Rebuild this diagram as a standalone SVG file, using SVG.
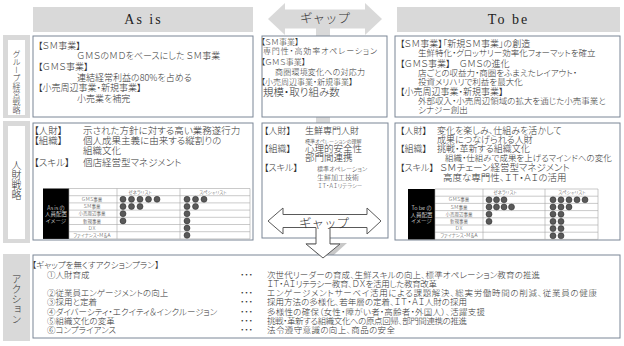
<svg xmlns="http://www.w3.org/2000/svg" width="624" height="346" viewBox="0 0 624 346">
<defs>
<style>
text{font-family:"Noto Sans CJK JP","Noto Sans",sans-serif;fill:#333;font-weight:300;font-feature-settings:"palt" 1}
.box{fill:#fff;stroke:#7b8696;stroke-width:1}
.gray{fill:#d9d9d9}
.white{fill:#fff}
.hd{font-family:"Liberation Serif",serif;font-size:14px;letter-spacing:2px;text-anchor:middle;fill:#222;font-weight:400}
.gap{font-size:12.5px;text-anchor:middle;fill:#333;font-feature-settings:normal}
.v{writing-mode:vertical-rl;text-anchor:middle;font-feature-settings:normal}
.tl{stroke:#a6a6a6;stroke-width:0.6;fill:none}
.tt{font-size:4.5px;text-anchor:middle;fill:#333}
.bt{font-size:5.5px;text-anchor:middle;fill:#fff}
.arrow{fill:#fff;stroke:#595959;stroke-width:1}
.shadow{fill:#c8c8c8}
</style>
<circle id="dot" r="3" fill="#595959" stroke="#262626" stroke-width="0.5"/>
</defs>
<rect width="624" height="346" fill="#fff"/>

<!-- background gap arrow (gray T arrow) -->
<g id="gap-top">
<polygon class="gray" points="268,19 285,3 285,9.5 365,9.5 365,3 382,19 365,35 365,28.5 285,28.5 285,35"/>
<rect class="gray" x="316" y="28" width="14" height="218"/>
<polygon class="shadow" points="305,243 347,243 326,262"/>
<text class="gap" x="325" y="23">ギャップ</text>
</g>

<!-- headers -->
<g id="head-asis"><rect class="gray" x="33" y="7" width="220" height="25"/><text class="hd" x="143.5" y="24">As is</text></g>
<g id="head-tobe"><rect class="gray" x="397" y="7" width="223" height="25"/><text class="hd" x="508.5" y="24">To be</text></g>

<!-- side labels -->
<g id="label-group">
<rect class="gray" x="3" y="35" width="27" height="83"/>
<rect class="white" x="8" y="40" width="17" height="75"/>
<text class="v" x="16.5" y="81.5" font-size="8">グループ経営戦略</text>
</g>
<g id="label-hr">
<rect class="gray" x="3" y="121" width="27" height="122"/>
<rect class="white" x="8" y="126" width="17" height="113"/>
<text class="v" x="16.5" y="180" font-size="10">人財戦略</text>
</g>
<g id="label-action">
<rect class="gray" x="3" y="254" width="27" height="87"/>
<text class="v" x="16.5" y="299" font-size="10">アクション</text>
</g>

<!-- row 1 -->
<g id="asis-group">
<rect class="box" x="33" y="36" width="220" height="81"/>
<text x="38" y="48.5" font-size="9">【ＳＭ事業】</text>
<text x="77" y="59" font-size="9">ＧＭＳのＭＤをベースにした ＳＭ事業</text>
<text x="38" y="69.5" font-size="9">【ＧＭＳ事業】</text>
<text x="77" y="80.5" font-size="9">連結経常利益の80%を占める</text>
<text x="38" y="91" font-size="9">【小売周辺事業・新規事業】</text>
<text x="77" y="101.5" font-size="9">小売業を補完</text>
</g>
<g id="gap-group">
<rect class="box" x="262" y="36" width="125" height="81"/>
<text x="261" y="45" font-size="8">【ＳＭ事業】</text>
<text x="263" y="54" font-size="8" textLength="114">専門性・高効率オペレーション</text>
<text x="261" y="64.5" font-size="8">【ＧＭＳ事業】</text>
<text x="275" y="74.5" font-size="8" textLength="90">商圏環境変化への対応力</text>
<text x="261" y="84.5" font-size="8">【小売周辺事業・新規事業】</text>
<text x="263" y="96" font-size="10.5">規模・取り組み数</text>
</g>
<g id="tobe-group">
<rect class="box" x="395" y="36" width="225" height="81"/>
<text x="400" y="46.5" font-size="9">【ＳＭ事業】「新規ＳＭ事業」の創造</text>
<text x="418" y="56" font-size="8.5">生鮮特化・グロッサリー効率化フォーマットを確立</text>
<text x="400" y="66.5" font-size="9">【ＧＭＳ事業】　ＧＭＳの進化</text>
<text x="418" y="76" font-size="8.5">店ごとの収益力・商圏をふまえたレイアウト・</text>
<text x="418" y="85" font-size="8.5">投資メリハリで利益を最大化</text>
<text x="400" y="95" font-size="9">【小売周辺事業・新規事業】</text>
<text x="418" y="104" font-size="8.5">外部収入・小売周辺領域の拡大を通じた小売事業と</text>
<text x="418" y="113" font-size="8.5">シナジー創出</text>
</g>

<!-- row 2 -->
<g id="asis-hr">
<rect class="box" x="33" y="123" width="220" height="117"/>
<text x="34" y="133.5" font-size="9.5">【人財】</text>
<text x="83" y="133.5" font-size="9.5">示された方針に対する高い業務遂行力</text>
<text x="34" y="143.5" font-size="9.5">【組織】</text>
<text x="83" y="143.5" font-size="9.5">個人成果主義に由来する縦割りの</text>
<text x="83" y="153.5" font-size="9.5">組織文化</text>
<text x="34" y="165.5" font-size="9.5">【スキル】</text>
<text x="83" y="165.5" font-size="9.5">個店経営型マネジメント</text>
<g id="asis-table">
<rect x="43" y="188.5" width="26" height="50.4" fill="#000"/>
<text class="bt" x="56" y="209.5">As is の</text>
<text class="bt" x="56" y="216">人員配置</text>
<text class="bt" x="56" y="222.5">イメージ</text>
<path class="tl" d="M69,188.5H250V238.9H69M69,195.7H250M69,202.9H250M69,210.1H250M69,217.3H250M69,224.5H250M69,231.7H250M117,188.5V238.9M180,188.5V238.9M69,188.5V238.9"/>
<text class="tt" x="140" y="193.7">ゼネラリスト</text>
<text class="tt" x="213" y="193.7">スペシャリスト</text>
<text class="tt" x="92" y="200.9">ＧＭＳ事業</text>
<text class="tt" x="92" y="208.1">ＳＭ事業</text>
<text class="tt" x="92" y="215.3">小売周辺事業</text>
<text class="tt" x="92" y="222.5">新規事業</text>
<text class="tt" x="92" y="229.7">ＤＸ</text>
<text class="tt" x="92" y="236.9">ファイナンス・Ｍ＆Ａ</text>
<use href="#dot" x="123" y="199.3"/><use href="#dot" x="131.5" y="199.3"/><use href="#dot" x="140" y="199.3"/><use href="#dot" x="148.5" y="199.3"/><use href="#dot" x="157" y="199.3"/>
<use href="#dot" x="187" y="199.3"/><use href="#dot" x="195.5" y="199.3"/><use href="#dot" x="204" y="199.3"/>
<use href="#dot" x="123" y="206.5"/><use href="#dot" x="131.5" y="206.5"/><use href="#dot" x="140" y="206.5"/>
<use href="#dot" x="187" y="206.5"/><use href="#dot" x="195.5" y="206.5"/>
<use href="#dot" x="123" y="213.7"/><use href="#dot" x="187" y="213.7"/>
<use href="#dot" x="123" y="220.9"/><use href="#dot" x="187" y="220.9"/>
<use href="#dot" x="187" y="228.1"/>
<use href="#dot" x="187" y="235.3"/>
</g>
</g>

<g id="gap-hr">
<rect class="box" x="262" y="123" width="126" height="115"/>
<text x="264" y="134" font-size="9">【人財】</text>
<text x="305" y="134" font-size="9">生鮮専門人財</text>
<text x="305" y="143" font-size="5">標準オペレーションの理解</text>
<text x="264" y="151.5" font-size="9">【組織】</text>
<text x="305" y="151.5" font-size="9.5">心理的安全性</text>
<text x="305" y="161" font-size="9.5">部門間連携</text>
<text x="264" y="171" font-size="9">【スキル】</text>
<text x="317" y="171" font-size="6">標準オペレーション</text>
<text x="317" y="180" font-size="7">生鮮加工技術</text>
<text x="318" y="187.5" font-size="5.5">ＩＴ・ＡＩリテラシー</text>
</g>

<g id="tobe-hr">
<rect class="box" x="395" y="123" width="225" height="117"/>
<text x="400" y="133.5" font-size="9">【人財】</text>
<text x="437" y="133.5" font-size="9">変化を楽しみ、仕組みを活かして</text>
<text x="437" y="143" font-size="9">成果につなげられる人財</text>
<text x="400" y="151.5" font-size="9">【組織】</text>
<text x="437" y="151.5" font-size="9">挑戦・革新する組織文化</text>
<text x="445" y="161" font-size="8.5">組織・仕組みで成果を上げるマインドへの変化</text>
<text x="400" y="171" font-size="9">【スキル】</text>
<text x="440" y="171" font-size="9.5">ＳＭチェーン経営型マネジメント</text>
<text x="443" y="181" font-size="9.5">高度な専門性、ＩＴ・ＡＩの活用</text>
<g id="tobe-table">
<rect x="408" y="189" width="27" height="50.4" fill="#000"/>
<text class="bt" x="421.5" y="210">To be の</text>
<text class="bt" x="421.5" y="216.5">人員配置</text>
<text class="bt" x="421.5" y="223">イメージ</text>
<path class="tl" d="M435,189H598V239.4H435M435,196.2H598M435,203.4H598M435,210.6H598M435,217.8H598M435,225H598M435,232.2H598M483,189V239.4M545,189V239.4M435,189V239.4"/>
<text class="tt" x="505" y="194.2">ゼネラリスト</text>
<text class="tt" x="572" y="194.2">スペシャリスト</text>
<text class="tt" x="459" y="201.4">ＧＭＳ事業</text>
<text class="tt" x="459" y="208.6">ＳＭ事業</text>
<text class="tt" x="459" y="215.8">小売周辺事業</text>
<text class="tt" x="459" y="223">新規事業</text>
<text class="tt" x="459" y="230.2">ＤＸ</text>
<text class="tt" x="459" y="237.4">ファイナンス・Ｍ＆Ａ</text>
<use href="#dot" x="489" y="199.8"/><use href="#dot" x="496.5" y="199.8"/><use href="#dot" x="504" y="199.8"/>
<use href="#dot" x="553" y="199.8"/><use href="#dot" x="561" y="199.8"/><use href="#dot" x="569" y="199.8"/><use href="#dot" x="577" y="199.8"/><use href="#dot" x="585" y="199.8"/>
<use href="#dot" x="489" y="207"/><use href="#dot" x="496.5" y="207"/><use href="#dot" x="504" y="207"/><use href="#dot" x="511.5" y="207"/>
<use href="#dot" x="553" y="207"/><use href="#dot" x="561" y="207"/><use href="#dot" x="569" y="207"/>
<use href="#dot" x="489" y="214.2"/><use href="#dot" x="553" y="214.2"/><use href="#dot" x="561" y="214.2"/>
<use href="#dot" x="489" y="221.4"/><use href="#dot" x="553" y="221.4"/><use href="#dot" x="561" y="221.4"/>
<use href="#dot" x="553" y="228.6"/><use href="#dot" x="561" y="228.6"/>
<use href="#dot" x="553" y="235.8"/><use href="#dot" x="561" y="235.8"/>
</g>
</g>

<!-- row 3 -->
<g id="action">
<rect class="box" x="33" y="255" width="587" height="83"/>
<text x="32" y="268" font-size="8.5">【ギャップを無くすアクションプラン】</text>
<text x="47" y="278" font-size="8.5">①人財育成</text>
<text x="47" y="296" font-size="8.5">②従業員エンゲージメントの向上</text>
<text x="47" y="305" font-size="8.5">③採用と定着</text>
<text x="47" y="314.5" font-size="8.5">④ダイバーシティ・エクイティ＆インクルージョン</text>
<text x="47" y="323.5" font-size="8.5">⑤組織文化の変革</text>
<text x="47" y="332.5" font-size="8.5">⑥コンプライアンス</text>
<g font-size="8.5">
<text x="240" y="278">・・・</text>
<text x="240" y="296">・・・</text>
<text x="240" y="305">・・・</text>
<text x="240" y="314.5">・・・</text>
<text x="240" y="323.5">・・・</text>
<text x="240" y="332.5">・・・</text>
</g>
<text x="267" y="278" font-size="8.5" textLength="273">次世代リーダーの育成、生鮮スキルの向上、標準オペレーション教育の推進</text>
<text x="267" y="287" font-size="8.5" textLength="170">ＩＴ・ＡＩリテラシー教育、ＤＸを活用した教育改革</text>
<text x="267" y="296" font-size="8.5" textLength="330">エンゲージメントサーベイ活用による課題解決、総実労働時間の削減、従業員の健康</text>
<text x="267" y="305" font-size="8.5" textLength="200">採用方法の多様化、若年層の定着、ＩＴ・ＡＩ人財の採用</text>
<text x="267" y="314.5" font-size="8.5" textLength="218">多様性の確保（女性・障がい者・高齢者・外国人）、活躍支援</text>
<text x="267" y="323.5" font-size="8.5" textLength="200">挑戦・革新する組織文化への原点回帰、部門間連携の推進</text>
<text x="267" y="332.5" font-size="8.5" textLength="128">法令遵守意識の向上、商品の安全</text>
</g>

<!-- connectors: gap arrow in middle column -->
<g id="connectors">
<polygon class="arrow" points="268,221 283,208 283,214.5 367,214.5 367,208 381,221 367,234 367,227.5 330,227.5 330,244 340,244 323,258 306,244 316,244 316,227.5 283,227.5 283,234"/>
<text class="gap" x="324" y="228">ギャップ</text>
</g>
</svg>
